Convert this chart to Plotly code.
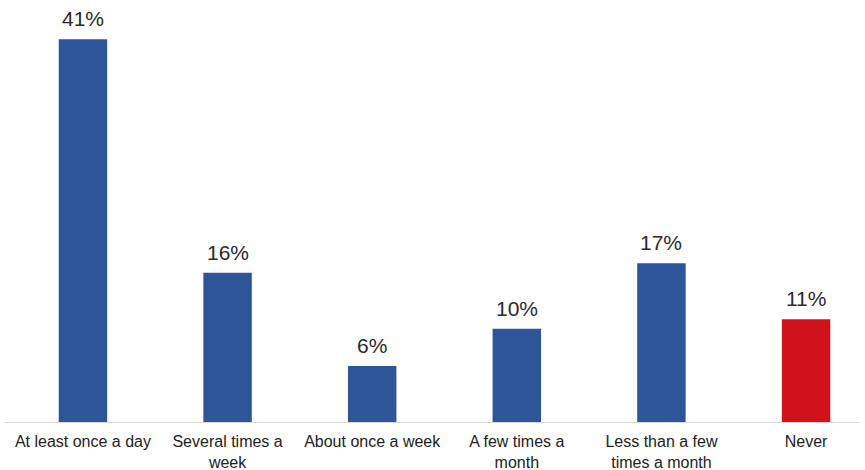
import plotly.graph_objects as go

categories = ["At least once a day", "Several times a<br>week", "About once a week",
              "A few times a<br>month", "Less than a few<br>times a month", "Never"]
values = [41, 16, 6, 10, 17, 11]
labels = ["41%", "16%", "6%", "10%", "17%", "11%"]
colors = ["#2e5597", "#2e5597", "#2e5597", "#2e5597", "#2e5597", "#d0121b"]

xs = list(range(len(categories)))
fig = go.Figure(go.Bar(
    x=xs, y=values,
    marker=dict(color=colors, line=dict(width=0)),
    width=0.335,
))
for x, v, t in zip(xs, values, labels):
    fig.add_annotation(x=x, y=v, text=t, showarrow=False, yanchor="bottom",
                       yshift=7, font=dict(family="Liberation Sans, Arial", size=21, color="#2a2a2a"))
fig.update_layout(
    width=865, height=470,
    margin=dict(l=5, r=5, t=2, b=48),
    paper_bgcolor="white", plot_bgcolor="white",
    showlegend=False,
    xaxis=dict(tickmode="array", tickvals=xs, ticktext=categories,
               range=[-0.539, 5.373], showline=True, linecolor="#d9d9d9", linewidth=1,
               showgrid=False, zeroline=False, ticks="", automargin=False,
               ticklabelstandoff=5,
               tickfont=dict(family="Liberation Sans, Arial", size=16, color="#222222")),
    yaxis=dict(range=[0, 45], visible=False, automargin=False),
)
fig.write_html("out.html", config={"displayModeBar": False},
               post_script="document.body.style.margin='0';document.body.style.overflow='hidden';")
